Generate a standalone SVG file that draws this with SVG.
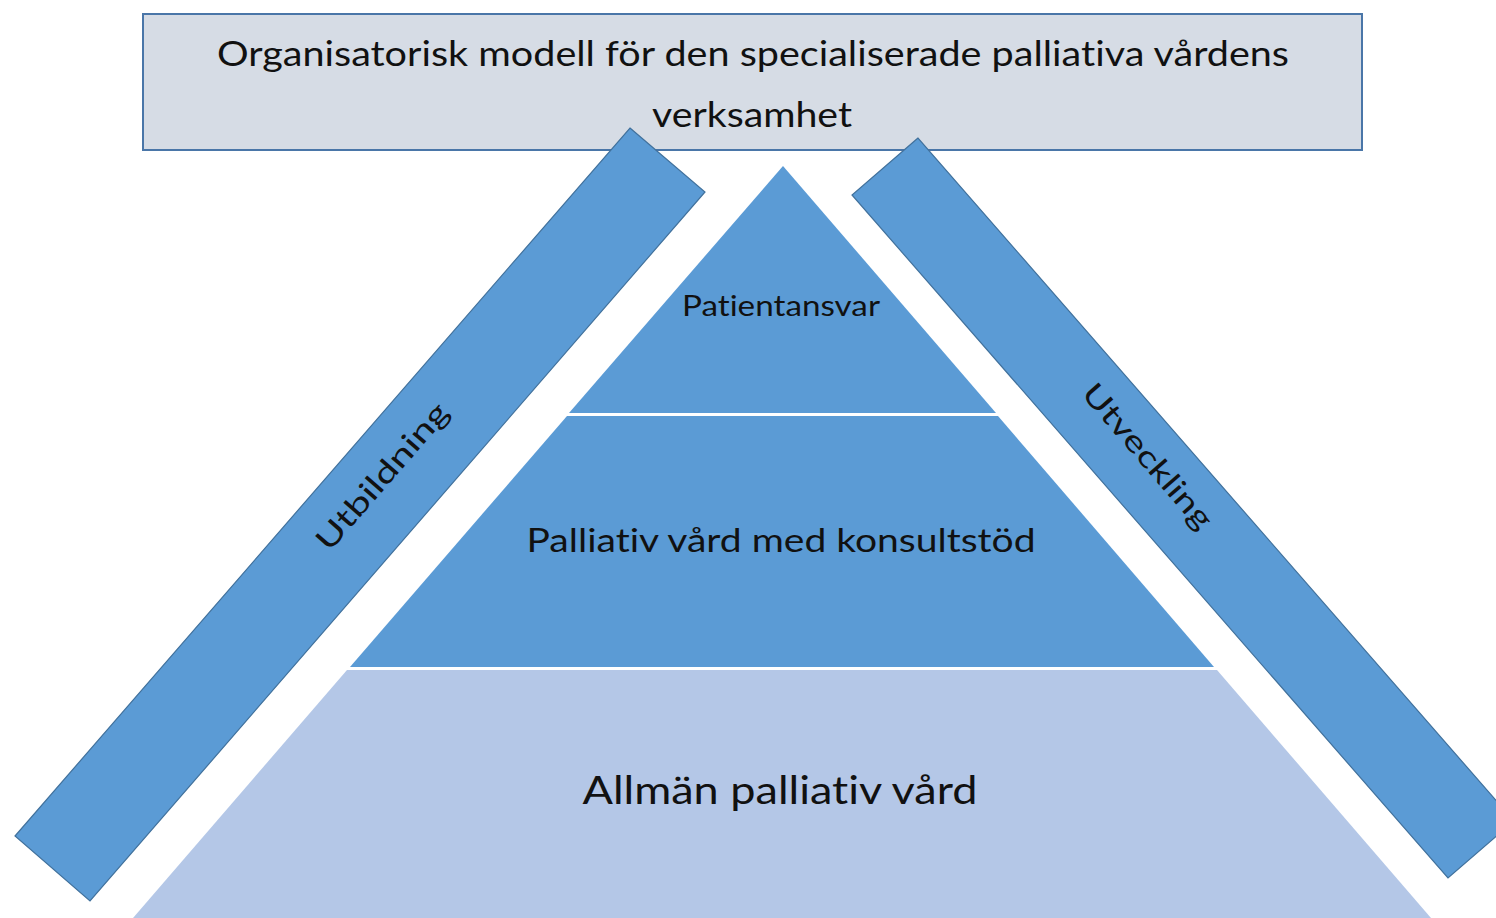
<svg xmlns="http://www.w3.org/2000/svg" width="1496" height="918" viewBox="0 0 1496 918">
<style>
.lbl{font-family:Lato,"Open Sans","Liberation Sans",sans-serif;fill:#111;text-anchor:middle;font-variant-ligatures:none}
.beam{fill:#5b9bd5;stroke:#41719c;stroke-width:1.2}
.tier{fill:#5b9bd5}
.tierL{fill:#b4c7e7}
</style>
<rect width="1496" height="918" fill="#ffffff"/>
<g id="title">
<rect x="143" y="14" width="1219" height="136" fill="#d6dce5" stroke="#4a76a8" stroke-width="2"/>
<text class="lbl" x="753" y="66" font-size="34" textLength="1072" lengthAdjust="spacingAndGlyphs">Organisatorisk modell för den specialiserade palliativa vårdens</text>
<text class="lbl" x="752" y="127" font-size="34" textLength="200" lengthAdjust="spacingAndGlyphs">verksamhet</text>
</g>
<g id="tier1">
<polygon class="tier" points="783,166 996,413 569,413"/>
<text class="lbl" x="781" y="316" font-size="29" textLength="198" lengthAdjust="spacingAndGlyphs">Patientansvar</text>
</g>
<g id="tier2">
<polygon class="tier" points="567,416 998,416 1214,667 350,667"/>
<text class="lbl" x="781" y="552" font-size="33" textLength="509" lengthAdjust="spacingAndGlyphs">Palliativ vård med konsultstöd</text>
</g>
<g id="tier3">
<polygon class="tierL" points="347,670 1217,670 1431,918 133,918"/>
<text class="lbl" x="780" y="804" font-size="39" textLength="395" lengthAdjust="spacingAndGlyphs">Allmän palliativ vård</text>
</g>
<g id="utbildning">
<polygon class="beam" points="630,128 705,192 90,901 15,836"/>
<text class="lbl" transform="translate(390,483) rotate(-49)" x="0" y="0" font-size="30" textLength="185" lengthAdjust="spacingAndGlyphs">Utbildning</text>
</g>
<g id="utveckling">
<polygon class="beam" points="918,138 852,195 1448,878 1514,821"/>
<text class="lbl" transform="translate(1140,463) rotate(49)" x="0" y="0" font-size="30" textLength="182" lengthAdjust="spacingAndGlyphs">Utveckling</text>
</g>
<g id="connectors"></g>
</svg>
